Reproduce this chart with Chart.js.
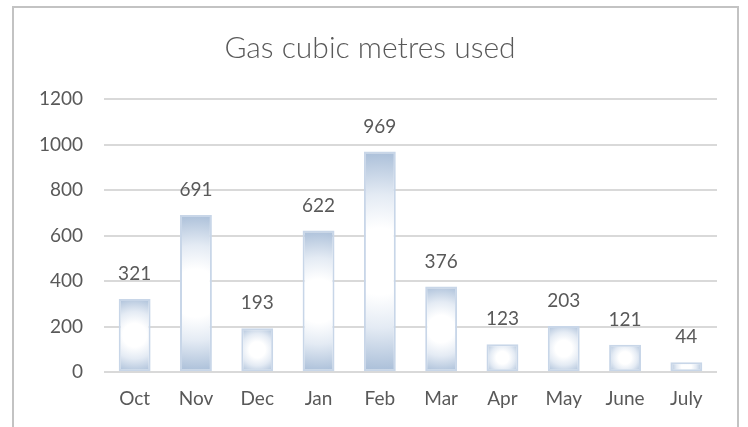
<!DOCTYPE html>
<html>
<head>
<meta charset="utf-8">
<script src="https://cdn.jsdelivr.net/npm/chart.js@4/dist/chart.umd.min.js"></script>
<style>
  html, body { margin: 0; padding: 0; background: #fff; }
  #wrap { width: 748px; height: 427px; }
</style>
</head>
<body>
<div id="wrap"><canvas id="chart" width="748" height="427"></canvas></div>
<script>
const months = ['Oct', 'Nov', 'Dec', 'Jan', 'Feb', 'Mar', 'Apr', 'May', 'June', 'July']
const gasUsed = [321, 691, 193, 622, 969, 376, 123, 203, 121, 44]
const yTicks = [0, 200, 400, 600, 800, 1000, 1200]

const TEXT = '#595959'
const EDGE = '#a9bed8'
const BAR_SHARE = 0.52

// white centre fading out to blue towards the bar corners,
// built from each bar element once the layout is done
const barGradient = {
  id: 'barGradient',
  beforeDatasetsDraw: (chart) => {
    const { ctx } = chart
    chart.getDatasetMeta(0).data.forEach((bar) => {
      const hw = bar.width / 2
      const hh = Math.abs(bar.base - bar.y) / 2
      const cy = (bar.y + bar.base) / 2
      const r = Math.hypot(hw, hh)
      if (!Number.isFinite(r) || !Number.isFinite(cy) || r <= 0) {
        return
      }
      const g = ctx.createRadialGradient(bar.x, cy, 0, bar.x, cy, r)
      g.addColorStop(0, '#ffffff')
      g.addColorStop(0.3, '#ffffff')
      g.addColorStop(0.6, '#e4ebf4')
      g.addColorStop(1, EDGE)
      bar.options.backgroundColor = g
    })
  }
}

const frame = {
  id: 'frame',
  beforeDraw: (chart) => {
    const { ctx } = chart
    ctx.save()
    ctx.strokeStyle = '#c3c3c3'
    ctx.lineWidth = 2
    ctx.strokeRect(13, 7, 725, 440)
    ctx.restore()
  }
}

const valueLabels = {
  id: 'valueLabels',
  afterDatasetsDraw: (chart) => {
    const { ctx } = chart
    const meta = chart.getDatasetMeta(0)
    ctx.save()
    ctx.fillStyle = TEXT
    ctx.font = '19px Lato'
    ctx.textAlign = 'center'
    ctx.textBaseline = 'middle'
    meta.data.forEach((bar, i) => {
      ctx.fillText(String(gasUsed[i]), bar.x, bar.y - 25)
    })
    ctx.restore()
  }
}

new Chart(document.getElementById('chart').getContext('2d'), {
  type: 'bar',
  data: {
    labels: months,
    datasets: [{
      data: gasUsed,
      backgroundColor: () => EDGE,
      borderColor: '#c8d6e8',
      borderWidth: 2,
      borderSkipped: false,
      categoryPercentage: BAR_SHARE,
      barPercentage: 1
    }]
  },
  options: {
    responsive: false,
    animation: false,
    events: [],
    layout: { padding: { left: 23, right: 31, top: 0, bottom: 2 } },
    plugins: {
      legend: { display: false },
      tooltip: { enabled: false },
      title: {
        display: true,
        text: 'Gas cubic metres used',
        color: TEXT,
        font: { family: 'Lato', size: 30, weight: '300' },
        padding: { top: 30, bottom: 33 }
      }
    },
    scales: {
      x: {
        grid: { display: false, drawTicks: false },
        border: { display: false },
        ticks: { color: TEXT, font: { family: 'Lato', size: 19 }, padding: 15 }
      },
      y: {
        min: 0,
        max: 1200,
        afterFit: (scale) => { scale.width = 81 },
        afterBuildTicks: (scale) => { scale.ticks = yTicks.map((v) => ({ value: v })) },
        grid: { color: '#d9d9d9', lineWidth: 2, drawTicks: false },
        border: { display: false },
        ticks: {
          color: TEXT,
          font: { family: 'Lato', size: 19 },
          padding: 21,
          callback: (v) => String(v)
        }
      }
    }
  },
  plugins: [frame, barGradient, valueLabels]
})
</script>
</body>
</html>
